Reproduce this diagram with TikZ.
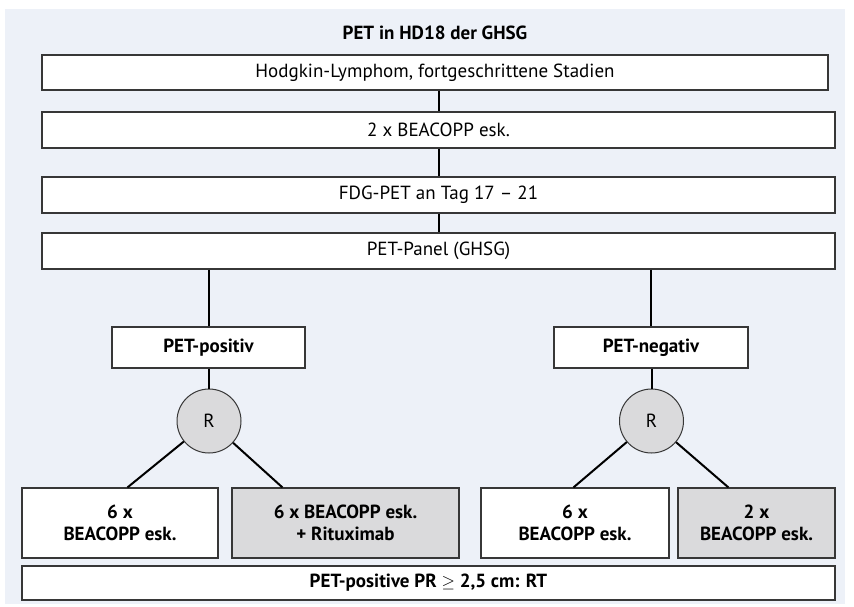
\documentclass[tikz,border=0pt]{standalone}
\usepackage{fontspec}
\setmainfont{PT Sans}
\definecolor{panelbg}{RGB}{237,241,248}
\definecolor{boxgray}{RGB}{218,218,220}
\definecolor{rimgray}{RGB}{55,55,55}
\newcommand\boxfont{\fontsize{19}{22}\selectfont}
\tikzset{
	box/.style={draw=rimgray, line width=1.1pt, fill=white, inner sep=0pt, align=center},
	gbox/.style={box, fill=boxgray},
	rnode/.style={draw=rimgray, line width=1pt, circle, fill=boxgray, minimum size=64pt, inner sep=0pt},
	link/.style={line width=2pt, black},
}
\begin{document}
\begin{tikzpicture}[x=1pt, y=-1pt, font=\boxfont]
			\useasboundingbox (0,0) rectangle (854,606);
			\fill[panelbg] (5,9) rectangle (845,604);
			%
			\node[font=\boxfont\bfseries] (title) at (435,33) {PET in HD18 der GHSG};
			\node[box, minimum width=786pt, minimum height=35pt] (box1) at (435,  72.5) {Hodgkin-Lymphom, fortgeschrittene Stadien};
			\node[box, minimum width=793pt, minimum height=36pt] (box2) at (438.5,130)  {2 x BEACOPP esk.};
			\node[box, minimum width=793pt, minimum height=36pt] (box3) at (438.5,195)  {FDG-PET an Tag 17 -- 21};
			\node[box, minimum width=793pt, minimum height=36pt] (box4) at (438.5,251)  {PET-Panel (GHSG)};
			\node[box, minimum width=193pt, minimum height=41pt, font=\boxfont\bfseries] (pos) at (208.5,347.5) {PET-positiv};
			\node[box, minimum width=194pt, minimum height=41pt, font=\boxfont\bfseries] (neg) at (651,  347.5) {PET-negativ};
			\node[rnode] (rl) at (209,  421) {R};
			\node[rnode] (rr) at (651.5,421) {R};
			\node[box,  minimum width=196pt, minimum height=70pt, font=\boxfont\bfseries] (b1) at (120,  523) {6 x\\BEACOPP esk.};
			\node[gbox, minimum width=227pt, minimum height=70pt, font=\boxfont\bfseries] (b2) at (345.5,523) {6 x BEACOPP esk.\\+ Rituximab};
			\node[box,  minimum width=188pt, minimum height=70pt, font=\boxfont\bfseries] (b3) at (575,  523) {6 x\\BEACOPP esk.};
			\node[gbox, minimum width=157pt, minimum height=70pt, font=\boxfont\bfseries] (b4) at (756.5,523) {2 x\\BEACOPP esk.};
			\node[box, minimum width=813pt, minimum height=34pt, font=\boxfont\bfseries] (rt) at (428.5,583) {PET-positive PR {\mdseries$\geq$} 2,5 cm: RT};
			%
			\def\chain {box1/box2, box2/box3, box3/box4, box4/pos, box4/neg, pos/rl, neg/rr}  % vertical links
			\foreach \u\v in \chain
			{	\draw[link] (\v.north |- \u.south) -- (\v.north);
			}
			\def\split {rl/b1/106, rl/b2/51, rr/b3/93, rr/b4/51}  % randomisation arms
			\foreach \u\v\dx in \split
			{	\draw[link] (\u) -- ([xshift=\dx pt]\v.north west);
			}
			%
\end{tikzpicture}
\end{document}
